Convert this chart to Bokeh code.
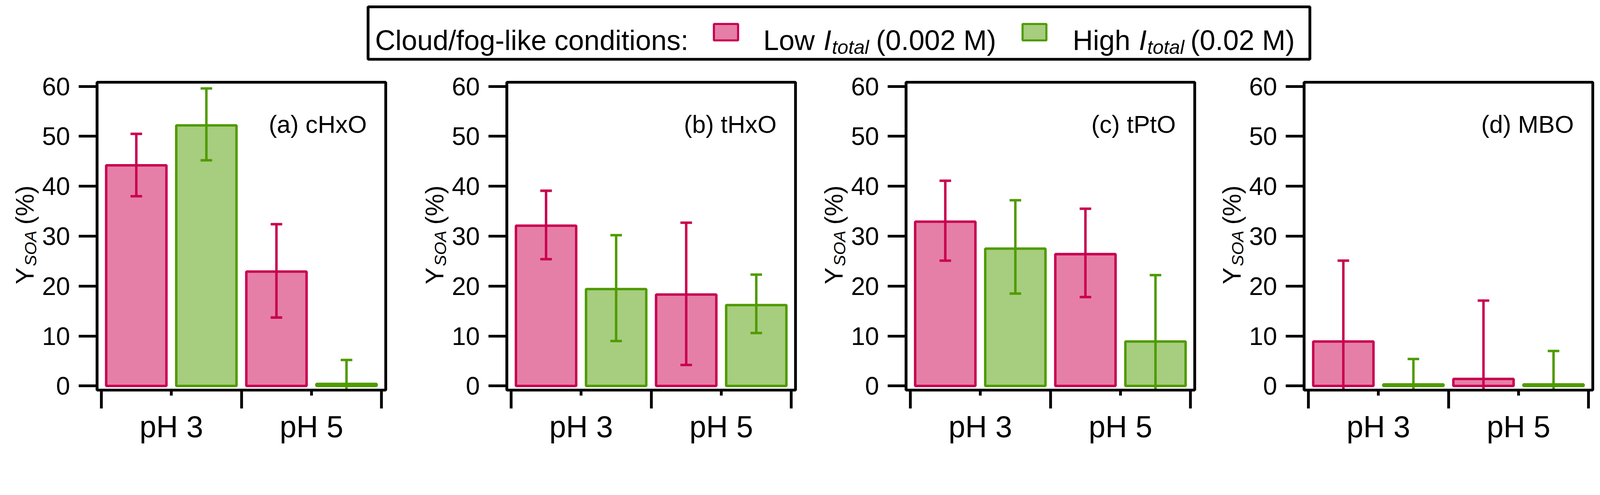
from math import pi

from bokeh.plotting import figure
from bokeh.layouts import column, row
from bokeh.models import Range1d, FixedTicker, Label
from bokeh.core.properties import value
from bokeh.embed import file_html
from bokeh.resources import INLINE

# ---- data ---------------------------------------------------------------
panel_names = ["(a) cHxO", "(b) tHxO", "(c) tPtO", "(d) MBO"]
groups = ["pH 3", "pH 5"]
y_ticks = [0, 10, 20, 30, 40, 50, 60]

# Y_SOA (%) per panel, [pH 3, pH 5]; low I_total (0.002 M)
low_mean = [[44.2, 22.9], [32.1, 18.3], [32.9, 26.4], [8.9, 1.4]]
low_upper = [[50.5, 32.4], [39.1, 32.7], [41.1, 35.5], [25.1, 17.1]]
low_lower = [[38.0, 13.7], [25.4, 4.2], [25.1, 17.8], [-7.3, -14.3]]

# high I_total (0.02 M)
high_mean = [[52.2, 0.4], [19.4, 16.2], [27.5, 8.9], [0.3, 0.3]]
high_upper = [[59.6, 5.2], [30.2, 22.3], [37.2, 22.2], [5.4, 7.0]]
high_lower = [[45.2, -4.4], [9.0, 10.6], [18.5, -4.4], [-4.8, -6.4]]

# ---- style ----------------------------------------------------------------
S = 0.897  # page px per reference px


def px(v):
    return int(round(v * S))


def fs(v):
    return "%.1fpx" % (v * S)


FONT = "Liberation Sans"
LOW_FILL, LOW_LINE = "#e57fa7", "#c8004f"
HIGH_FILL, HIGH_LINE = "#a7cd7f", "#4f9b00"
LW = 7 * S      # bars and error bars
AX_LW = 8 * S   # frame and axes

FRAME_W, FRAME_H = 824, 879
LABEL_W = 116          # strip holding the rotated y title
BORDER_L = 158         # between strip and frame (room for y ticks)
BORDER_R = [69, 39, 36, 15]
TOP, BOTTOM = 35, 125
Y_RANGE = (-0.84, 60.84)


def make_ylabel():
    q = figure(frame_width=px(LABEL_W), frame_height=px(FRAME_H),
               min_border_left=0, min_border_right=0,
               min_border_top=px(TOP), min_border_bottom=px(BOTTOM),
               x_range=Range1d(0, LABEL_W), y_range=Range1d(*Y_RANGE),
               x_axis_type=None, y_axis_type=None,
               toolbar_location=None, output_backend="svg")
    q.grid.visible = False
    q.outline_line_color = None
    pieces = [(71, 20.35, "Y", 72, "normal"),
              (86, 24.0, "SOA", 48, "italic"),
              (71, 32.3, "(%)", 72, "normal")]
    for x, y, t, size, style in pieces:
        q.text(x=[x], y=[y], text=[t], angle=pi / 2, text_color="black",
               text_font=value(FONT), text_font_size=fs(size), text_font_style=style,
               text_baseline="alphabetic", text_align="left")
    return q


def make_panel(k):
    p = figure(frame_width=px(FRAME_W), frame_height=px(FRAME_H),
               min_border_left=px(BORDER_L), min_border_right=px(BORDER_R[k]),
               min_border_top=px(TOP), min_border_bottom=px(BOTTOM),
               x_range=Range1d(-0.03, 2.03), y_range=Range1d(*Y_RANGE),
               toolbar_location=None, output_backend="svg")
    p.grid.visible = False
    p.outline_line_color = "black"
    p.outline_line_width = AX_LW

    xs = list(range(len(groups)))
    series = [
        (0.25, low_mean[k], low_upper[k], low_lower[k], LOW_FILL, LOW_LINE),
        (0.75, high_mean[k], high_upper[k], high_lower[k], HIGH_FILL, HIGH_LINE),
    ]
    for off, mean, up, lo, fill, line in series:
        x = [i + off for i in xs]
        p.vbar(x=x, top=mean, bottom=0, width=0.43,
               fill_color=fill, line_color=line, line_width=LW)
        p.segment(x0=x, y0=lo, x1=x, y1=up, line_color=line, line_width=LW)
        p.scatter(x=x, y=up, marker="dash", size=33 * S, line_color=line, line_width=LW)
        p.scatter(x=x, y=lo, marker="dash", size=33 * S, line_color=line, line_width=LW)

    # axes
    p.xaxis.ticker = FixedTicker(ticks=[i + 0.5 for i in xs],
                                 minor_ticks=list(range(len(groups) + 1)))
    p.xaxis.major_label_overrides = {i + 0.5: g for i, g in enumerate(groups)}
    p.yaxis.ticker = FixedTicker(ticks=y_ticks)
    for ax in (p.xaxis[0], p.yaxis[0]):
        ax.axis_line_width = AX_LW
        ax.axis_line_color = "black"
        ax.major_tick_line_width = AX_LW
        ax.minor_tick_line_width = AX_LW
        ax.major_tick_line_color = "black"
        ax.minor_tick_line_color = "black"
        ax.major_tick_in = 0
        ax.minor_tick_in = 0
        ax.major_label_text_font = FONT
        ax.major_label_text_color = "black"
    p.xaxis.major_tick_out = px(16)
    p.xaxis.minor_tick_out = px(52)
    p.xaxis.major_label_text_font_size = fs(86)
    p.xaxis.major_label_standoff = px(3)
    p.yaxis.major_tick_out = px(52)
    p.yaxis.minor_tick_out = 0
    p.yaxis.major_label_text_font_size = fs(72)
    p.yaxis.major_label_standoff = px(24)

    # panel tag
    p.add_layout(Label(x=1.895, y=52.4, text=panel_names[k], text_color="black",
                       text_font=FONT, text_font_size=fs(70),
                       text_baseline="alphabetic", text_align="right"))
    return p


parts = []
for k in range(len(panel_names)):
    parts.append(make_ylabel())
    parts.append(make_panel(k))

total_w = sum(LABEL_W + BORDER_L + FRAME_W + r for r in BORDER_R)

# ---- legend strip (coordinates in reference px) ----------------------------
LEG_H = 200
leg = figure(width=px(total_w), height=px(LEG_H),
             x_range=Range1d(0, total_w), y_range=Range1d(LEG_H, 0),
             x_axis_type=None, y_axis_type=None, min_border=0,
             toolbar_location=None, output_backend="svg")
leg.grid.visible = False
leg.outline_line_color = None
leg.quad(left=[1050], right=[3738], top=[19], bottom=[169],
         fill_color=None, line_color="black", line_width=8 * S)
leg.quad(left=[2037], right=[2106], top=[68], bottom=[115],
         fill_color=LOW_FILL, line_color=LOW_LINE, line_width=6 * S)
leg.quad(left=[2918], right=[2986], top=[68], bottom=[115],
         fill_color=HIGH_FILL, line_color=HIGH_LINE, line_width=6 * S)


def leg_text(x, y, t, size=80, style="normal"):
    leg.add_layout(Label(x=x, y=y, text=t, text_color="black", text_font=FONT,
                         text_font_size=fs(size), text_font_style=style,
                         text_baseline="alphabetic", text_align="left"))


leg_text(1070, 115, "Cloud/fog-like conditions:")
leg_text(2178, 115, "Low")
leg_text(2350, 115, "I", style="italic")
leg_text(2374, 135, "total", size=56, style="italic")
leg_text(2500, 115, "(0.002 M)")
leg_text(3061, 115, "High")
leg_text(3250, 115, "I", style="italic")
leg_text(3274, 135, "total", size=56, style="italic")
leg_text(3397, 115, "(0.02 M)")

layout = column(leg, row(*parts))

open("out.html", "w").write(file_html(layout, INLINE))
